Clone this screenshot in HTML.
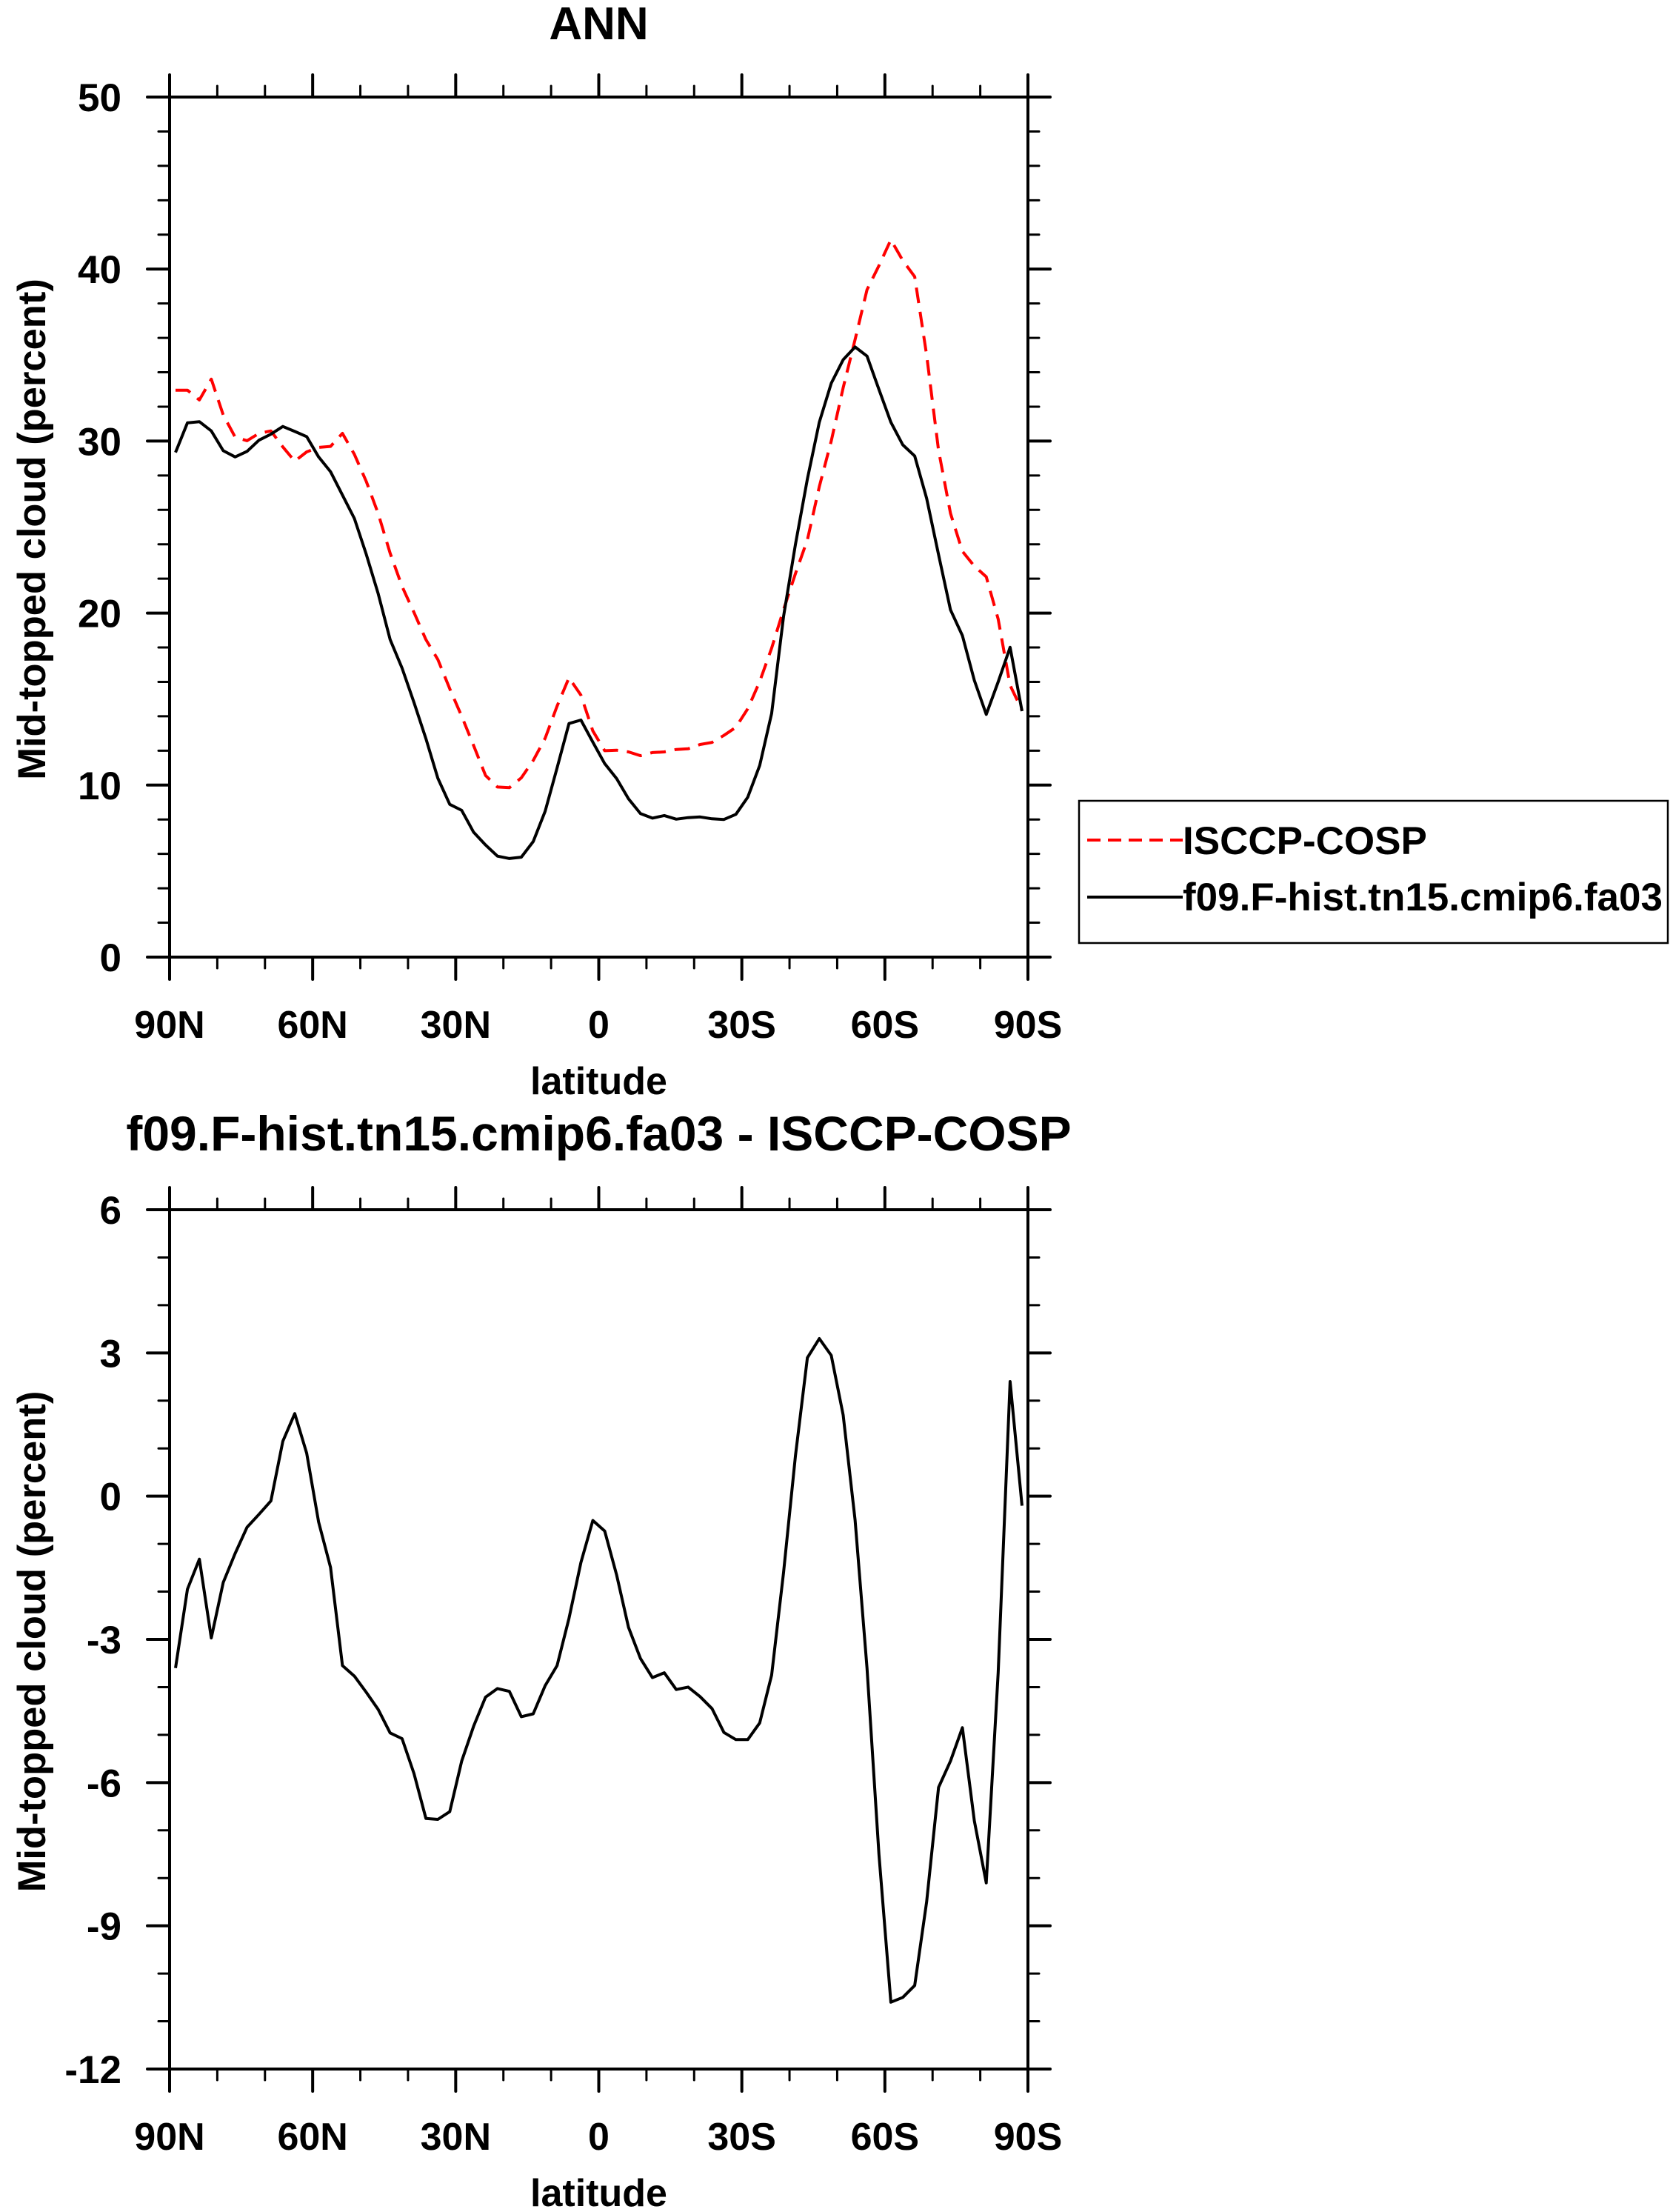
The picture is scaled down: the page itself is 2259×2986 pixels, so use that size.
<!DOCTYPE html>
<html><head><meta charset="utf-8">
<style>
html,body{margin:0;padding:0;background:#fff;}
svg{display:block;}
text{font-family:"Liberation Sans",Arial,sans-serif;font-weight:bold;fill:#000;}
</style></head>
<body>
<svg id="chart" width="2259" height="2986" viewBox="0 0 2259 2986" xmlns="http://www.w3.org/2000/svg">
<g id="top"></g>
<g id="bot"></g>
</svg>
<script>
const lats = [];
for (let i = 0; i < 72; i++) lats.push(88.75 - 2.5 * i);
const modelVals = [29.34,31.06,31.13,30.59,29.44,29.08,29.4,30.05,30.4,30.85,30.56,30.26,29.08,28.22,26.86,25.5,23.41,21.12,18.46,16.8,14.8,12.7,10.4,8.88,8.53,7.26,6.52,5.87,5.73,5.81,6.72,8.48,11.0,13.58,13.78,12.5,11.25,10.38,9.2,8.34,8.08,8.23,8.02,8.11,8.15,8.04,8.0,8.3,9.3,11.14,14.16,19.8,24.0,27.8,31.1,33.36,34.73,35.47,34.94,33.0,31.1,29.78,29.13,26.67,23.4,20.19,18.69,16.09,14.11,16.0,18.01,14.3];
const obsVals = [32.96,32.96,32.39,33.6,31.52,30.23,30.02,30.45,30.59,29.66,28.83,29.37,29.63,29.69,30.45,29.23,27.65,25.78,23.48,21.55,20.04,18.46,17.3,15.6,14.0,12.3,10.56,9.89,9.85,10.42,11.43,12.72,14.59,16.24,15.23,13.15,12.0,12.03,11.93,11.71,11.89,11.93,12.07,12.11,12.36,12.48,12.89,13.36,14.44,16.02,17.96,20.2,22.3,24.26,27.35,30.0,33.1,35.9,38.8,40.2,41.7,40.5,39.55,35.0,29.46,25.8,23.59,22.73,22.11,19.65,15.8,14.36];
const diffVals = [-3.6,-1.95,-1.32,-2.97,-1.81,-1.2,-0.65,-0.38,-0.1,1.15,1.73,0.9,-0.54,-1.49,-3.55,-3.77,-4.11,-4.47,-4.96,-5.08,-5.81,-6.75,-6.77,-6.61,-5.55,-4.82,-4.21,-4.03,-4.09,-4.62,-4.56,-3.97,-3.55,-2.56,-1.39,-0.51,-0.73,-1.65,-2.75,-3.4,-3.8,-3.7,-4.05,-4.0,-4.2,-4.45,-4.95,-5.1,-5.1,-4.75,-3.75,-1.6,0.85,2.9,3.3,2.95,1.7,-0.5,-3.6,-7.5,-10.6,-10.5,-10.25,-8.5,-6.1,-5.55,-4.85,-6.8,-8.1,-3.7,2.4,-0.2];
const xTickVals = [90,60,30,0,-30,-60,-90];
const xTickLabels = ["90N","60N","30N","0","30S","60S","90S"];
const topYTicks = [0,10,20,30,40,50];
const botYTicks = [-12,-9,-6,-3,0,3,6];

const NS = "http://www.w3.org/2000/svg";
const X0 = 229, X1 = 1388;
function xScale(lat){ return X0 + (90 - lat) / 180 * (X1 - X0); }
function mk(tag, attrs, parent){
  const e = document.createElementNS(NS, tag);
  for (const k in attrs) e.setAttribute(k, attrs[k]);
  parent.appendChild(e); return e;
}

function panel(g, yTop, yBot, vmin, vmax, majorStep, minorStep, ticks, title, titleY, titleSize){
  const yS = v => yBot - (v - vmin) / (vmax - vmin) * (yBot - yTop);
  // title
  const t = mk("text", {x: (X0+X1)/2, y: titleY, "text-anchor":"middle", "font-size": titleSize}, g);
  t.textContent = title;
  
  
  // frame
  const fr = mk("rect", {x:X0, y:yTop, width:X1-X0, height:yBot-yTop, fill:"none", stroke:"#000", "stroke-width":4}, g);
  
  
  // x ticks
  const tg = mk("g", {stroke:"#000", "stroke-linecap":"round"}, g);
  
  
  for (let lat = 90; lat >= -90; lat -= 10) {
    const x = xScale(lat), major = (lat % 30 === 0), L = major ? 30 : 15, w = major ? 4 : 3;
    mk("line", {x1:x, y1:yTop, x2:x, y2:yTop-L, "stroke-width":w}, tg);
    mk("line", {x1:x, y1:yBot, x2:x, y2:yBot+L, "stroke-width":w}, tg);
  }
  for (let v = vmin; v <= vmax + 1e-6; v += minorStep) {
    const y = yS(v), major = Math.abs(v / majorStep - Math.round(v / majorStep)) < 1e-6;
    const L = major ? 30 : 15, w = major ? 4 : 3;
    mk("line", {x1:X0, y1:y, x2:X0-L, y2:y, "stroke-width":w}, tg);
    mk("line", {x1:X1, y1:y, x2:X1+L, y2:y, "stroke-width":w}, tg);
  }
  xTickVals.forEach((lat, i) => {
    const tx = mk("text", {x:xScale(lat), y:yBot+109, "text-anchor":"middle", "font-size":52}, g);
    tx.textContent = xTickLabels[i];
    
    
  });
  ticks.forEach(v => {
    const ty = mk("text", {x:164, y:yS(v)+19, "text-anchor":"end", "font-size":53}, g);
    ty.textContent = String(v);
    
    
  });
  const xl = mk("text", {x:(X0+X1)/2, y:yBot+185, "text-anchor":"middle", "font-size":52}, g);
  xl.textContent = "latitude";
  
  
  const cy = (yTop + yBot) / 2 + 3;
  const yl = mk("text", {x:0, y:0, "text-anchor":"middle", "font-size":52.5, transform:`translate(61,${cy}) rotate(-90)`}, g);
  yl.textContent = "Mid-topped cloud (percent)";
  
  
  return yS;
}
function series(g, vals, yS, attrs, name){
  const pts = vals.map((v, i) => xScale(lats[i]).toFixed(1) + "," + yS(v).toFixed(1)).join(" ");
  const p = mk("polyline", Object.assign({points:pts, fill:"none", "stroke-linejoin":"round"}, attrs), g);
  
  
}

const gTop = document.getElementById("top");
const yTopS = panel(gTop, 131, 1292, 0, 50, 10, 2, topYTicks, "ANN", 53, 62);
series(gTop, obsVals, yTopS, {stroke:"#ff0000", "stroke-width":4, "stroke-dasharray":"21 12"}, "isccp-cosp-line");
series(gTop, modelVals, yTopS, {stroke:"#000", "stroke-width":4}, "model-line");

const gBot = document.getElementById("bot");
const yBotS = panel(gBot, 1633, 2793, -12, 6, 3, 1, botYTicks, "f09.F-hist.tn15.cmip6.fa03 - ISCCP-COSP", 1553, 66);
series(gBot, diffVals, yBotS, {stroke:"#000", "stroke-width":4}, "difference-line");

// legend
const svg = document.getElementById("chart");
const lg = mk("g", {}, svg);


mk("rect", {x:1457, y:1081, width:795, height:192, fill:"#fff", stroke:"#000", "stroke-width":2.5}, lg);
const l1 = mk("line", {x1:1468, y1:1134, x2:1597, y2:1134, stroke:"#ff0000", "stroke-width":4, "stroke-dasharray":"18 10"}, lg);


const t1 = mk("text", {x:1597, y:1153, "font-size":53}, lg);
t1.textContent = "ISCCP-COSP";


const l2 = mk("line", {x1:1468, y1:1211, x2:1597, y2:1211, stroke:"#000", "stroke-width":4}, lg);


const t2 = mk("text", {x:1597, y:1229, "font-size":53}, lg);
t2.textContent = "f09.F-hist.tn15.cmip6.fa03";


</script>
</body></html>
